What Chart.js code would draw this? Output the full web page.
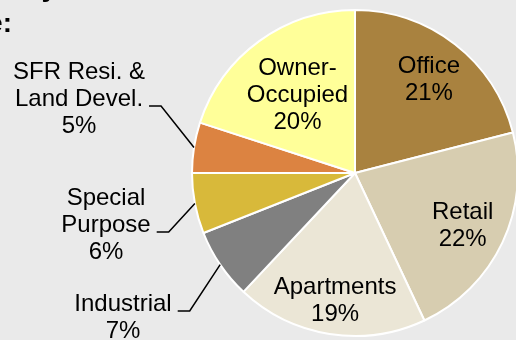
<!DOCTYPE html>
<html>
<head>
<meta charset="utf-8">
<script src="https://cdn.jsdelivr.net/npm/chart.js@4.4.1/dist/chart.umd.min.js"></script>
<style>
  html, body { margin: 0; padding: 0; background: #eaeaea; overflow: hidden; }
  #wrap { position: relative; width: 516px; height: 340px; overflow: hidden; }
  #mixChart { position: absolute; left: 0; top: 0; }
</style>
</head>
<body>
<div id="wrap">
  <canvas id="mixChart" width="530" height="340"></canvas>
</div>
<script>
// Portfolio mix by property type (percent of total)
const categories = ['Office', 'Retail', 'Apartments', 'Industrial', 'Special Purpose', 'SFR Resi. & Land Devel.', 'Owner-Occupied'];
const shares = [21, 22, 19, 7, 6, 5, 20];
const labelLines = [['Office'], ['Retail'], ['Apartments'], ['Industrial'], ['Special', 'Purpose'], ['SFR Resi. &', 'Land Devel.'], ['Owner-', 'Occupied']];
const titleLines = ['Loan Portfolio by', 'Property Type:'];

const sliceColors = ['#a9823f', '#d7cdb0', '#ebe6d6', '#808080', '#d8b93a', '#dc8341', '#ffff99'];

// where each label goes: inside slices by radius factor, outside ones at a fixed spot with a leader line
const labelSpots = [
    { inside: 0.74 },
    { inside: 0.73 },
    { inside: 0.78 },
    { x: 123, y: 311 },
    { x: 106, y: 205 },
    { x: 79, y: 79 },
    { inside: 0.6 }
];

const FONT = '24px "Liberation Sans", Arial, sans-serif';
const LINE_H = 27;

const sliceLabels = {
    id: 'sliceLabels',
    afterDraw(chart) {
        const ctx = chart.ctx;
        const arcs = chart.getDatasetMeta(0).data;
        ctx.save();
        ctx.font = FONT;
        ctx.fillStyle = '#000';
        ctx.textAlign = 'center';
        ctx.textBaseline = 'alphabetic';
        ctx.strokeStyle = '#000';
        ctx.lineWidth = 1.5;

        arcs.forEach((arc, i) => {
            const lines = labelLines[i].concat([shares[i] + '%']);
            const spot = labelSpots[i];
            const mid = (arc.startAngle + arc.endAngle) / 2;

            if (spot.inside) {
                const r = arc.outerRadius * spot.inside;
                const cx = arc.x + Math.cos(mid) * r;
                const cy = arc.y + Math.sin(mid) * r;
                const first = cy - (lines.length - 1) * LINE_H / 2 + 8.6;
                lines.forEach((t, k) => ctx.fillText(t, cx, first + k * LINE_H));
                return;
            }

            lines.forEach((t, k) => ctx.fillText(t, spot.x, spot.y + k * LINE_H));

            // leader: short flat piece after the name, then to the slice edge
            const last = labelLines[i].length - 1;
            const ly = spot.y + last * LINE_H;
            const x0 = spot.x + ctx.measureText(labelLines[i][last]).width / 2 + 6;
            const x1 = x0 + 12;
            ctx.beginPath();
            ctx.moveTo(x0, ly);
            ctx.lineTo(x1, ly);
            ctx.lineTo(arc.x + Math.cos(mid) * arc.outerRadius, arc.y + Math.sin(mid) * arc.outerRadius);
            ctx.stroke();
        });

        // heading, mostly running off the left edge
        ctx.font = 'bold 28px "Liberation Sans", Arial, sans-serif';
        ctx.textAlign = 'right';
        ctx.fillText(titleLines[0], 57, -4.5);
        ctx.fillText(titleLines[1], 12, 32);
        ctx.restore();
    }
};

new Chart(document.getElementById('mixChart'), {
    type: 'pie',
    data: {
        labels: categories,
        datasets: [{
            data: shares,
            backgroundColor: sliceColors,
            borderColor: '#ffffff',
            borderWidth: 2,
            hoverOffset: 0
        }]
    },
    options: {
        responsive: false,
        animation: false,
        layout: { padding: { left: 191, right: 11, top: 9, bottom: 3 } },
        plugins: {
            legend: { display: false },
            tooltip: { enabled: false },
            title: { display: false }
        }
    },
    plugins: [sliceLabels]
});
</script>
</body>
</html>
